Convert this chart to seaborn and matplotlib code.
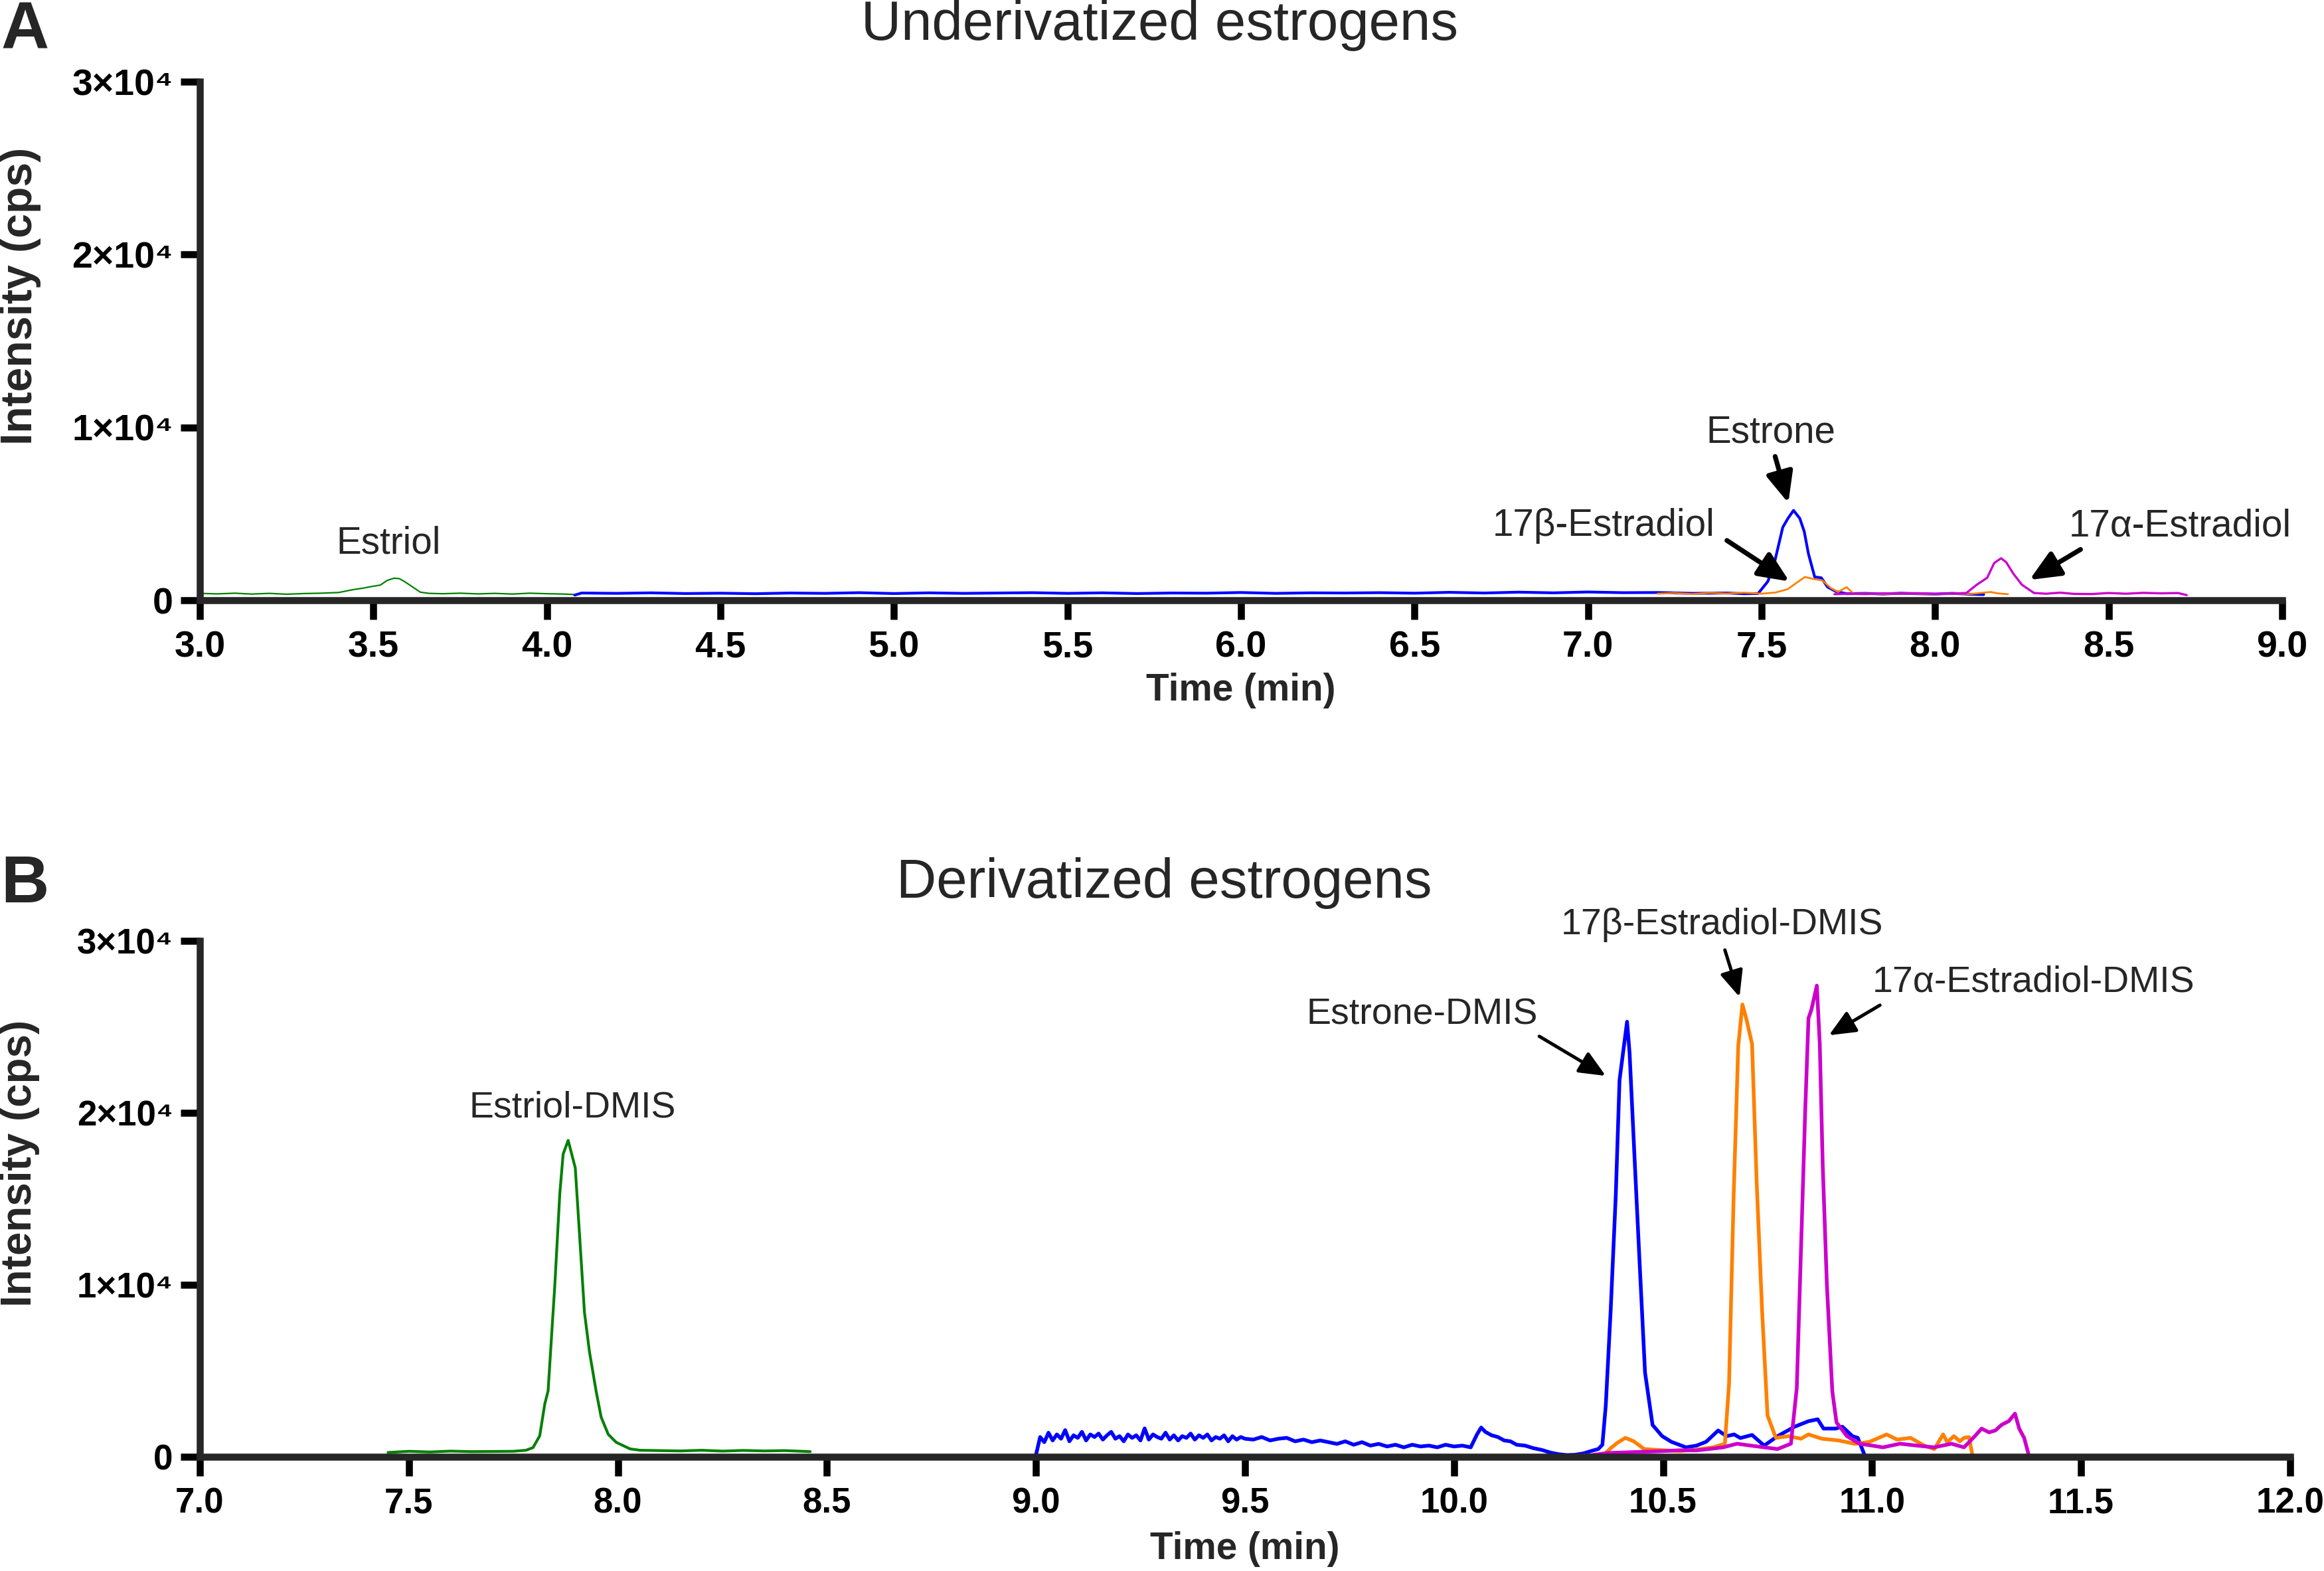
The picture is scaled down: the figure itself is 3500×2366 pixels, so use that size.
import matplotlib
matplotlib.use("Agg")
import pandas as pd
import matplotlib.pyplot as plt
import seaborn as sns
from matplotlib import font_manager

# ---------------- data ----------------
# panel A : underivatized estrogens
a_estriol_t = [3.00, 3.05, 3.10, 3.15, 3.20, 3.25, 3.30, 3.35, 3.40, 3.44, 3.47, 3.49, 3.52,
               3.54, 3.56, 3.575, 3.59, 3.62, 3.635, 3.66, 3.70, 3.75, 3.80, 3.85, 3.90,
               3.95, 4.00, 4.05, 4.08]
a_estriol_i = [400, 370, 410, 360, 400, 350, 390, 410, 450, 610, 700, 780, 880,
               1150, 1280, 1250, 1080, 675, 470, 400, 380, 410, 370, 400, 360,
               410, 380, 360, 330]

a_estrone_t = [4.08, 4.10, 4.20, 4.30, 4.40, 4.50, 4.60, 4.70, 4.80, 4.90, 5.00, 5.10, 5.20,
               5.30, 5.40, 5.50, 5.60, 5.70, 5.80, 5.90, 6.00, 6.10, 6.20, 6.30, 6.40,
               6.50, 6.60, 6.70, 6.80, 6.90, 7.00, 7.10, 7.20, 7.30, 7.40, 7.45, 7.49,
               7.518, 7.537, 7.561, 7.576, 7.592, 7.61, 7.623, 7.635, 7.653, 7.672, 7.69,
               7.714, 7.745, 7.80, 7.85, 7.90, 7.95, 8.00, 8.05, 8.10, 8.14]
a_estrone_i = [300, 420, 400, 430, 390, 410, 380, 420, 400, 440, 390, 430, 400,
               420, 440, 400, 430, 390, 420, 410, 450, 400, 430, 420, 440,
               410, 460, 420, 470, 430, 480, 440, 450, 400, 420, 380, 390,
               1090, 2170, 4220, 4740, 5200, 4740, 3970, 2690, 1350, 1300, 770,
               510, 380, 400, 360, 410, 380, 360, 400, 350, 330]

a_bestradiol_t = [7.20, 7.25, 7.30, 7.35, 7.40, 7.45, 7.50, 7.54, 7.575, 7.60, 7.625, 7.65,
                  7.675, 7.70, 7.72, 7.745, 7.765, 7.80, 7.85, 7.90, 7.95, 8.00, 8.05,
                  8.10, 8.13, 8.16, 8.18, 8.21]
a_bestradiol_i = [380, 420, 360, 430, 390, 440, 380, 450, 640, 1000, 1350, 1230,
                  1150, 700, 480, 760, 380, 390, 360, 400, 380, 350, 390,
                  360, 420, 480, 400, 350]

a_aestradiol_t = [7.71, 7.75, 7.80, 7.85, 7.90, 7.95, 8.00, 8.05, 8.09, 8.12, 8.15, 8.17,
                  8.19, 8.205, 8.225, 8.25, 8.285, 8.32, 8.36, 8.40, 8.45, 8.50, 8.55,
                  8.60, 8.65, 8.70, 8.725]
a_aestradiol_i = [350, 380, 360, 400, 380, 410, 370, 390, 420, 900, 1300, 2150,
                  2430, 2200, 1550, 900, 420, 380, 440, 370, 360, 420, 380,
                  430, 400, 420, 300]

# panel B : DMIS derivatives
b_estriol_t = [7.45, 7.50, 7.55, 7.60, 7.65, 7.70, 7.75, 7.78, 7.797, 7.813, 7.825, 7.833,
               7.841, 7.849, 7.861, 7.869, 7.881, 7.898, 7.908, 7.92, 7.932, 7.948, 7.96,
               7.977, 7.996, 8.029, 8.053, 8.10, 8.15, 8.20, 8.25, 8.30, 8.35, 8.40, 8.46]
b_estriol_i = [250, 320, 280, 330, 300, 310, 320, 380, 535, 1220, 3060, 3830,
               6900, 9950, 15300, 17600, 18400, 16800, 13000, 8400, 6100, 3800, 2300,
               1300, 840, 460, 380, 360, 340, 380, 330, 370, 340, 360, 300]

b_estrone_t = [9.00, 9.01, 9.02, 9.03, 9.04, 9.05, 9.06, 9.07, 9.08, 9.09, 9.10, 9.11, 9.12,
               9.13, 9.14, 9.15, 9.16, 9.17, 9.18, 9.19, 9.20, 9.21, 9.22, 9.23, 9.24,
               9.25, 9.26, 9.27, 9.28, 9.29, 9.30, 9.31, 9.32, 9.33, 9.34, 9.35, 9.36,
               9.37, 9.38, 9.39, 9.40, 9.41, 9.42, 9.43, 9.44, 9.45, 9.46, 9.47, 9.48,
               9.49, 9.50, 9.52, 9.54, 9.56, 9.58, 9.60, 9.62, 9.64, 9.66, 9.68, 9.70,
               9.72, 9.74, 9.76, 9.78, 9.80, 9.82, 9.84, 9.86, 9.88, 9.90, 9.92, 9.94,
               9.96, 9.98, 10.00, 10.02, 10.04, 10.055, 10.065, 10.075, 10.09, 10.105,
               10.12, 10.135, 10.15, 10.17, 10.19, 10.21, 10.23, 10.25, 10.27, 10.29,
               10.31, 10.33, 10.345, 10.355, 10.363, 10.375, 10.387, 10.396, 10.414,
               10.42, 10.432, 10.445, 10.457, 10.475, 10.498, 10.52, 10.555, 10.58,
               10.603, 10.632, 10.652, 10.67, 10.685, 10.713, 10.742, 10.774, 10.815,
               10.848, 10.87, 10.884, 10.913, 10.929, 10.953, 10.966, 10.982]
b_estrone_i = [100, 1150, 850, 1400, 950, 1300, 1050, 1550, 900, 1250, 1100, 1450, 950,
               1300, 1150, 1350, 1000, 1250, 1450, 1050, 1200, 900, 1300, 1100, 1250,
               950, 1650, 1000, 1300, 1150, 1050, 1400, 1000, 1250, 950, 1200, 1100,
               1350, 1000, 1250, 1100, 1300, 950, 1150, 1050, 1250, 900, 1200, 1000,
               1150, 1050, 1000, 1150, 950, 1050, 1100, 900, 1000, 850, 950, 850,
               750, 900, 700, 850, 650, 750, 600, 700, 550, 700, 600, 650,
               550, 700, 600, 650, 550, 1300, 1700, 1450, 1250, 1150,
               950, 900, 700, 650, 500, 400, 250, 150, 100, 120,
               200, 350, 450, 700, 2950, 8600, 15200, 21900, 25300,
               23500, 17350, 10800, 4900, 1850, 1200, 870, 550, 650,
               870, 1530, 1200, 1300, 1090, 1270, 650, 1200, 1750,
               2070, 2180, 1640, 1640, 1750, 1200, 1100, 110]

b_bestradiol_t = [10.28, 10.33, 10.36, 10.375, 10.39, 10.41, 10.43, 10.455, 10.50, 10.54,
                  10.58, 10.62, 10.648, 10.658, 10.669, 10.68, 10.69, 10.70, 10.713,
                  10.724, 10.737, 10.75, 10.77, 10.80, 10.83, 10.848, 10.88, 10.92,
                  10.96, 10.994, 11.035, 11.06, 11.092, 11.125, 11.149, 11.17, 11.18,
                  11.196, 11.21, 11.22, 11.232, 11.24]
b_bestradiol_i = [50, 80, 150, 500, 800, 1100, 900, 450, 380, 330,
                  420, 550, 760, 4260, 15200, 23900, 26300, 25400, 24000,
                  16000, 8500, 2400, 1100, 1200, 1050, 1300, 1050, 950,
                  750, 870, 1300, 1000, 1100, 650, 450, 1300, 850,
                  1200, 900, 1100, 1150, 100]

b_aestradiol_t = [10.33, 10.367, 10.416, 10.46, 10.498, 10.54, 10.58, 10.61, 10.644, 10.677,
                  10.71, 10.742, 10.774, 10.806, 10.82, 10.83, 10.84, 10.848, 10.855,
                  10.868, 10.875, 10.882, 10.892, 10.905, 10.915, 10.94, 10.97, 11.00,
                  11.026, 11.067, 11.108, 11.149, 11.19, 11.22, 11.246, 11.262, 11.28,
                  11.295, 11.31, 11.327, 11.342, 11.352, 11.364, 11.376]
b_aestradiol_i = [100, 220, 260, 300, 330, 380, 370, 450, 550, 760,
                  650, 550, 450, 760, 4000, 12000, 20000, 25500, 26000,
                  27400, 24000, 17000, 10000, 3800, 2000, 1200, 760, 650,
                  550, 760, 650, 550, 760, 550, 1200, 1640, 1420,
                  1530, 1860, 2070, 2510, 1640, 1090, 0]

y_ticks = [0, 10000, 20000, 30000]
y_tick_labels = ["0", "1×10⁴", "2×10⁴", "3×10⁴"]
a_x_ticks = [3.0, 3.5, 4.0, 4.5, 5.0, 5.5, 6.0, 6.5, 7.0, 7.5, 8.0, 8.5, 9.0]
b_x_ticks = [7.0, 7.5, 8.0, 8.5, 9.0, 9.5, 10.0, 10.5, 11.0, 11.5, 12.0]

colors = {"estriol": "#008000", "estrone": "#0000ff",
          "bestradiol": "#ff8000", "aestradiol": "#cc00cc"}


def make_df(pairs):
    frames = []
    for name, (t, i) in pairs.items():
        frames.append(pd.DataFrame({"time": t, "intensity": i, "compound": name}))
    return pd.concat(frames, ignore_index=True)


df_a = make_df({"estriol": (a_estriol_t, a_estriol_i), "estrone": (a_estrone_t, a_estrone_i),
                "bestradiol": (a_bestradiol_t, a_bestradiol_i),
                "aestradiol": (a_aestradiol_t, a_aestradiol_i)})
df_b = make_df({"estriol": (b_estriol_t, b_estriol_i), "estrone": (b_estrone_t, b_estrone_i),
                "bestradiol": (b_bestradiol_t, b_bestradiol_i),
                "aestradiol": (b_aestradiol_t, b_aestradiol_i)})

# ---------------- style ----------------
sns.set_style("ticks")
names = {f.name for f in font_manager.fontManager.ttflist}
NARROW = "Liberation Sans Narrow" if "Liberation Sans Narrow" in names else "Liberation Sans"
k = 1.0 if NARROW == "Liberation Sans Narrow" else 0.85
narrow = [NARROW, "DejaVu Sans"]
wide = ["Liberation Sans", "DejaVu Sans"]
plt.rcParams["font.family"] = wide

fig = plt.figure(figsize=(17.5, 11.83), dpi=200)
ax_a = fig.add_axes([0.086, 0.6179, 0.896, 0.3301])
ax_b = fig.add_axes([0.086, 0.0727, 0.8994, 0.3284])


def style_axis(ax, xlim, xticks, tick_family, tick_size):
    ax.set_xlim(*xlim)
    ax.set_ylim(0, 30000)
    sns.despine(ax=ax)
    for s in ("left", "bottom"):
        ax.spines[s].set_linewidth(3.8)
    ax.tick_params(axis="both", which="major", direction="out", length=10.5, width=3.8,
                   colors="black")
    ax.tick_params(axis="x", pad=6)
    ax.tick_params(axis="y", pad=4)
    ax.set_xticks(xticks)
    ax.set_xticklabels([f"{v:.1f}" for v in xticks])
    ax.set_yticks(y_ticks)
    ax.set_yticklabels(y_tick_labels)
    for lab in ax.get_xticklabels() + ax.get_yticklabels():
        lab.set_fontfamily(tick_family)
        lab.set_fontsize(tick_size)
        lab.set_fontweight("bold")


def draw_traces(ax, df, widths):
    for name, lw in widths.items():
        sub = df[df["compound"] == name]
        sns.lineplot(data=sub, x="time", y="intensity", ax=ax, color=colors[name],
                     linewidth=lw, estimator=None, sort=False, legend=False)


def arrow(ax, tail, head, lw, ms):
    ax.annotate("", xy=head, xytext=tail, annotation_clip=False,
                arrowprops=dict(arrowstyle="-|>,head_length=0.5,head_width=0.22",
                                color="black", lw=lw, mutation_scale=ms,
                                shrinkA=0, shrinkB=0))


# ---------------- panel A ----------------
draw_traces(ax_a, df_a, {"estriol": 0.8, "estrone": 1.5, "bestradiol": 1.0, "aestradiol": 1.2})
style_axis(ax_a, (3.0, 9.0), a_x_ticks, narrow, 23.5 * k)
ax_a.set_xlabel("Time (min)", fontfamily=narrow, fontsize=24 * k, fontweight="bold")
ax_a.set_ylabel("Intensity (cps)", fontfamily=narrow, fontsize=28 * k, fontweight="bold")
ax_a.xaxis.set_label_coords(0.5, -0.174)
ax_a.xaxis.label.set_va("center")
ax_a.yaxis.set_label_coords(-0.086, 0.586)
ax_a.yaxis.label.set_va("center")

for txt, x, y in [("Estriol", 3.543, 3270), ("Estrone", 7.527, 9690),
                  ("17β-Estradiol", 7.045, 4300), ("17α-Estradiol", 8.705, 4300)]:
    ax_a.text(x, y, txt, ha="center", va="center", fontfamily=narrow,
              fontsize=24 * k, clip_on=False)
arrow(ax_a, (7.539, 8320), (7.577, 5630), 2.6, 28)
arrow(ax_a, (7.40, 3460), (7.58, 1090), 2.6, 28)
arrow(ax_a, (8.419, 2940), (8.272, 1180), 2.6, 28)

# ---------------- panel B ----------------
draw_traces(ax_b, df_b, {"estriol": 1.5, "estrone": 2.0, "bestradiol": 2.0, "aestradiol": 2.0})
style_axis(ax_b, (7.0, 12.0), b_x_ticks, wide, 19)
ax_b.set_xlabel("Time (min)", fontfamily=narrow, fontsize=24 * k, fontweight="bold")
ax_b.set_ylabel("Intensity (cps)", fontfamily=narrow, fontsize=27 * k, fontweight="bold")
ax_b.xaxis.set_label_coords(0.5, -0.179)
ax_b.xaxis.label.set_va("center")
ax_b.yaxis.set_label_coords(-0.086, 0.569)
ax_b.yaxis.label.set_va("center")

for txt, x, y in [("Estriol-DMIS", 7.891, 20300), ("Estrone-DMIS", 9.923, 25680),
                  ("17β-Estradiol-DMIS", 10.642, 30930), ("17α-Estradiol-DMIS", 11.386, 27570)]:
    ax_b.text(x, y, txt, ha="center", va="center", fontsize=20, clip_on=False)
arrow(ax_b, (10.204, 24450), (10.363, 22150), 1.8, 24)
arrow(ax_b, (10.648, 29470), (10.683, 26740), 1.8, 24)
arrow(ax_b, (11.019, 26260), (10.897, 24510), 1.8, 24)

# ---------------- titles and panel letters ----------------
fig.text(0.499, 0.984, "Underivatized estrogens", ha="center", va="center", fontsize=30)
fig.text(0.501, 0.438, "Derivatized estrogens", ha="center", va="center", fontsize=30)
fig.text(0.0005, 0.980, "A", ha="left", va="center", fontsize=36, fontweight="bold",
         fontfamily=narrow)
fig.text(0.0005, 0.4366, "B", ha="left", va="center", fontsize=36, fontweight="bold")

fig.savefig("out.png", dpi=200)
